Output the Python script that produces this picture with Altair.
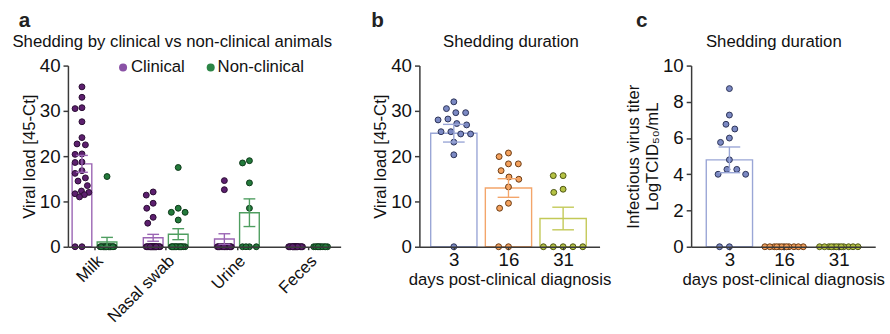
import math
import json
import numpy as np
import pandas as pd
import altair as alt

FONT = "Liberation Sans"
FS = 17
TICK_FS = 19

# ---------------- data: panel a ----------------
tissues = ["Milk", "Nasal swab", "Urine", "Feces"]
groups_a = ["Clinical", "Non-clinical"]
milk_clinical = [35.3, 33.0, 30.5, 30.7, 27.6, 24.1, 22.5, 22.7, 20.5, 20.4, 18.7, 18.6,
                 16.8, 16.2, 15.2, 14.5, 13.5, 12.3, 12.0, 11.7, 11.5, 11.0, 0, 0]
milk_nonclinical = [15.5, 0, 0, 0, 0, 0, 0, 0, 0, 0, 0, 0, 0, 0, 0]
nasal_clinical = [12.1, 11.4, 9.6, 8.5, 6.5, 5.2, 0, 0, 0, 0, 0, 0, 0, 0, 0, 0, 0,
                  0, 0, 0, 0, 0, 0, 0, 0, 0, 0]
nasal_nonclinical = [17.5, 8.5, 7.6, 7.6, 5.9, 0, 0, 0, 0, 0, 0, 0, 0, 0, 0, 0, 0]
urine_clinical = [14.6, 12.6, 0, 0, 0, 0, 0, 0, 0, 0, 0, 0, 0, 0, 0, 0]
urine_nonclinical = [19.0, 18.5, 14.1, 8.5, 0, 0, 0, 0]
feces_clinical = [0, 0, 0, 0, 0, 0, 0, 0, 0, 0, 0, 0, 0, 0, 0, 0, 0, 0, 0, 0]
feces_nonclinical = [0, 0, 0, 0, 0, 0, 0, 0, 0, 0]

# ---------------- data: panels b, c ----------------
days = ["3", "16", "31"]
rt_day3 = [32.0, 30.5, 29.6, 29.6, 28.0, 28.2, 27.2, 26.9, 24.9, 25.4, 24.9, 25.4, 23.1, 20.3, 0]
rt_day16 = [20.7, 19.9, 18.3, 18.3, 16.8, 15.4, 14.9, 13.2, 9.6, 8.5, 0, 0]
rt_day31 = [15.7, 15.7, 12.7, 12.0, 0, 0, 0, 0, 0]
titer_day3 = [8.73, 7.27, 6.76, 6.5, 6.0, 5.76, 4.8, 4.27, 4.0, 4.0, 4.27, 0, 0]
titer_day16 = [0, 0, 0, 0, 0, 0, 0, 0, 0, 0, 0, 0]
titer_day31 = [0, 0, 0, 0, 0, 0, 0, 0, 0, 0, 0, 0]

# ---------------- styles ----------------
A_FILL = ["#5c1f6e", "#237a3b"]
A_EDGE = ["#2a0c33", "#0c3818"]
A_LINE = ["#9a64b3", "#4f9e60"]
A_LEGEND = ["#8a52a6", "#2c8546"]
D_FILL = ["#7b89c3", "#f4a15d", "#b5c244"]
D_EDGE = ["#2c3356", "#6a3a12", "#4d5514"]
D_LINE = ["#9aa6d6", "#f3a56a", "#c3c957"]
AXC = "#3a3a3a"
H = 184


def swarm_offsets(vals, ppu_y, sep, halfw, step=0.5):
    n = len(vals)
    order = sorted(range(n), key=lambda i: -vals[i])
    cands = sorted(np.arange(-halfw, halfw + 1e-9, step), key=lambda c: (abs(c), c))
    placed = []
    offs = [0.0] * n
    for i in order:
        y = vals[i] * ppu_y
        best_c, best_d = 0.0, -1.0
        for c in cands:
            d = min((math.hypot(c - px, y - py) for px, py in placed), default=1e9)
            if d >= sep:
                best_c = c
                break
            if d > best_d:
                best_d, best_c = d, c
        placed.append((best_c, y))
        offs[i] = best_c
    return offs


def build_panel(series, group_names, fills, edges, lines, width, x_domain, y_max, y_ticks,
                x_values, x_labels, x_title, y_title, title, title_x, letter, letter_x,
                halfw, sep, bar_half_px, cap_half_px, label_angle, x_label_fs, legend_layers=()):
    ppu_x = width / (x_domain[1] - x_domain[0])
    ppu_y = H / y_max
    pts, bars, errs = [], [], []
    for cx, g, vals in series:
        offs = swarm_offsets(vals, ppu_y, sep, halfw)
        for v, o in zip(vals, offs):
            pts.append({"x": cx + o / ppu_x, "y": v, "grp": g, "edge": g})
        arr = np.array(vals, float)
        m = float(arr.mean())
        s = float(arr.std(ddof=1) / np.sqrt(len(arr)))
        bars.append({"x0": cx - bar_half_px / ppu_x, "x1": cx + bar_half_px / ppu_x,
                     "m": m, "z": 0.0, "ln": g})
        if s > 0:
            errs.append({"cx": cx, "c0": cx - cap_half_px / ppu_x, "c1": cx + cap_half_px / ppu_x,
                         "lo": m - s, "hi": m + s, "ln": g})
    pts, bars, errs = pd.DataFrame(pts), pd.DataFrame(bars), pd.DataFrame(errs)

    xs = alt.Scale(domain=x_domain, nice=False, zero=False)
    ys = alt.Scale(domain=[0, y_max], nice=False, zero=True)
    label_expr = json.dumps(x_labels) + "[round(datum.value)]"
    xaxis = alt.Axis(values=x_values, labelExpr=label_expr, title=x_title, grid=False,
                     labelAngle=label_angle, labelAlign="right" if label_angle else "center",
                     labelBaseline="top", tickSize=3, labelPadding=3 if label_angle else 1,
                     labelOverlap=False, labelFontSize=x_label_fs, titlePadding=2, zindex=1)
    yaxis = alt.Axis(values=y_ticks, title=y_title, grid=False, tickSize=5, labelPadding=3,
                     labelFontSize=TICK_FS, titlePadding=1)
    line_scale = alt.Scale(domain=group_names, range=lines)
    fill_scale = alt.Scale(domain=group_names, range=fills)
    edge_scale = alt.Scale(domain=group_names, range=edges)

    bar_layer = alt.Chart(bars).mark_bar(filled=False, strokeWidth=1.4).encode(
        x=alt.X("x0:Q", scale=xs, axis=xaxis), x2="x1:Q",
        y=alt.Y("m:Q", scale=ys, axis=yaxis), y2="z:Q",
        color=alt.Color("ln:N", scale=line_scale, legend=None))
    pt_layer = alt.Chart(pts).mark_circle(size=36, opacity=1, strokeWidth=1.0).encode(
        x=alt.X("x:Q", scale=xs, axis=xaxis),
        y=alt.Y("y:Q", scale=ys, axis=yaxis),
        fill=alt.Fill("grp:N", scale=fill_scale, legend=None),
        stroke=alt.Stroke("edge:N", scale=edge_scale, legend=None))
    layers = [bar_layer, pt_layer]
    if len(errs):
        base = alt.Chart(errs)
        col = alt.Color("ln:N", scale=line_scale, legend=None)
        layers.append(base.mark_rule(strokeWidth=1.4).encode(
            x=alt.X("cx:Q", scale=xs, axis=xaxis), y=alt.Y("lo:Q", scale=ys, axis=yaxis),
            y2="hi:Q", color=col))
        layers.append(base.mark_rule(strokeWidth=1.4).encode(
            x=alt.X("c0:Q", scale=xs, axis=xaxis), x2="c1:Q",
            y=alt.Y("hi:Q", scale=ys, axis=yaxis), color=col))
        layers.append(base.mark_rule(strokeWidth=1.4).encode(
            x=alt.X("c0:Q", scale=xs, axis=xaxis), x2="c1:Q",
            y=alt.Y("lo:Q", scale=ys, axis=yaxis), color=col))
    layers.append(alt.Chart(pd.DataFrame({"t": [letter]})).mark_text(
        font=FONT, fontSize=21, fontWeight="bold", align="left", baseline="alphabetic",
        color="#222222").encode(text="t:N", x=alt.value(letter_x), y=alt.value(-39)))
    layers.append(alt.Chart(pd.DataFrame({"t": [title]})).mark_text(
        font=FONT, fontSize=FS, align="center", baseline="alphabetic",
        color="#111111").encode(text="t:N", x=alt.value(title_x), y=alt.value(-19)))
    layers.extend(legend_layers)
    return alt.layer(*layers).properties(width=width, height=H)


# manual legend for panel a (pixel offsets relative to the plot area)
legend_df = pd.DataFrame({"label": groups_a, "col": A_LEGEND,
                          "dot_px": [56, 145], "text_px": [64, 152]})
legend_layers = [
    alt.Chart(legend_df).mark_circle(size=66, opacity=1, strokeWidth=0).encode(
        x=alt.X("dot_px:Q", scale=None), y=alt.value(2),
        fill=alt.Fill("col:N", scale=None)),
    alt.Chart(legend_df).mark_text(font=FONT, fontSize=FS, align="left", baseline="middle",
                                   color="#111111").encode(
        x=alt.X("text_px:Q", scale=None), y=alt.value(2), text="label:N"),
]

series_a = [
    (0 - 0.176, "Clinical", milk_clinical), (0 + 0.176, "Non-clinical", milk_nonclinical),
    (1 - 0.176, "Clinical", nasal_clinical), (1 + 0.176, "Non-clinical", nasal_nonclinical),
    (2 - 0.176, "Clinical", urine_clinical), (2 + 0.176, "Non-clinical", urine_nonclinical),
    (3 - 0.176, "Clinical", feces_clinical), (3 + 0.176, "Non-clinical", feces_nonclinical),
]
panel_a = build_panel(series_a, groups_a, A_FILL, A_EDGE, A_LINE, 277, [-0.373, 3.457], 40,
                      [0, 10, 20, 30, 40], [0, 1, 2, 3], tissues, None, "Viral load [45-Ct]",
                      "Shedding by clinical vs non-clinical animals", 106, "a", -50,
                      7.0, 8.0, 10, 6, -45, 17, legend_layers=legend_layers)

series_b = [(0, "3", rt_day3), (1, "16", rt_day16), (2, "31", rt_day31)]
panel_b = build_panel(series_b, days, D_FILL, D_EDGE, D_LINE, 183, [-0.63, 2.667], 40,
                      [0, 10, 20, 30, 40], [0, 1, 2], days, "days post-clinical diagnosis",
                      "Viral load [45-Ct]", "Shedding duration", 93, "b", -49,
                      20.0, 10.0, 23.5, 11, 0, TICK_FS)

series_c = [(0, "3", titer_day3), (1, "16", titer_day16), (2, "31", titer_day31)]
panel_c = build_panel(series_c, days, D_FILL, D_EDGE, D_LINE, 187, [-0.70, 2.667], 10,
                      [0, 2, 4, 6, 8, 10], [0, 1, 2], days, "days post-clinical diagnosis",
                      ["Infectious virus titer", "LogTCID\u2085\u2080/mL"], "Shedding duration",
                      84, "c", -56, 19.5, 10.0, 23.5, 11, 0, TICK_FS)

res = dict(color="independent", fill="independent", stroke="independent")
inner = alt.hconcat(panel_a, panel_b, spacing=31).resolve_scale(**res)
chart = alt.hconcat(inner, panel_c, spacing=13).resolve_scale(**res).properties(
    padding={"left": 12, "top": 8, "right": 5, "bottom": 5}, background="white"
).configure_view(stroke=None).configure_axis(
    labelFont=FONT, titleFont=FONT, labelFontSize=FS, titleFontSize=FS, titleFontWeight="normal",
    labelColor="#111111", titleColor="#111111", domainColor=AXC, tickColor=AXC,
    domainWidth=1.5, tickWidth=1.5)

chart.save("out.html", embed_options={"renderer": "svg", "actions": False})
